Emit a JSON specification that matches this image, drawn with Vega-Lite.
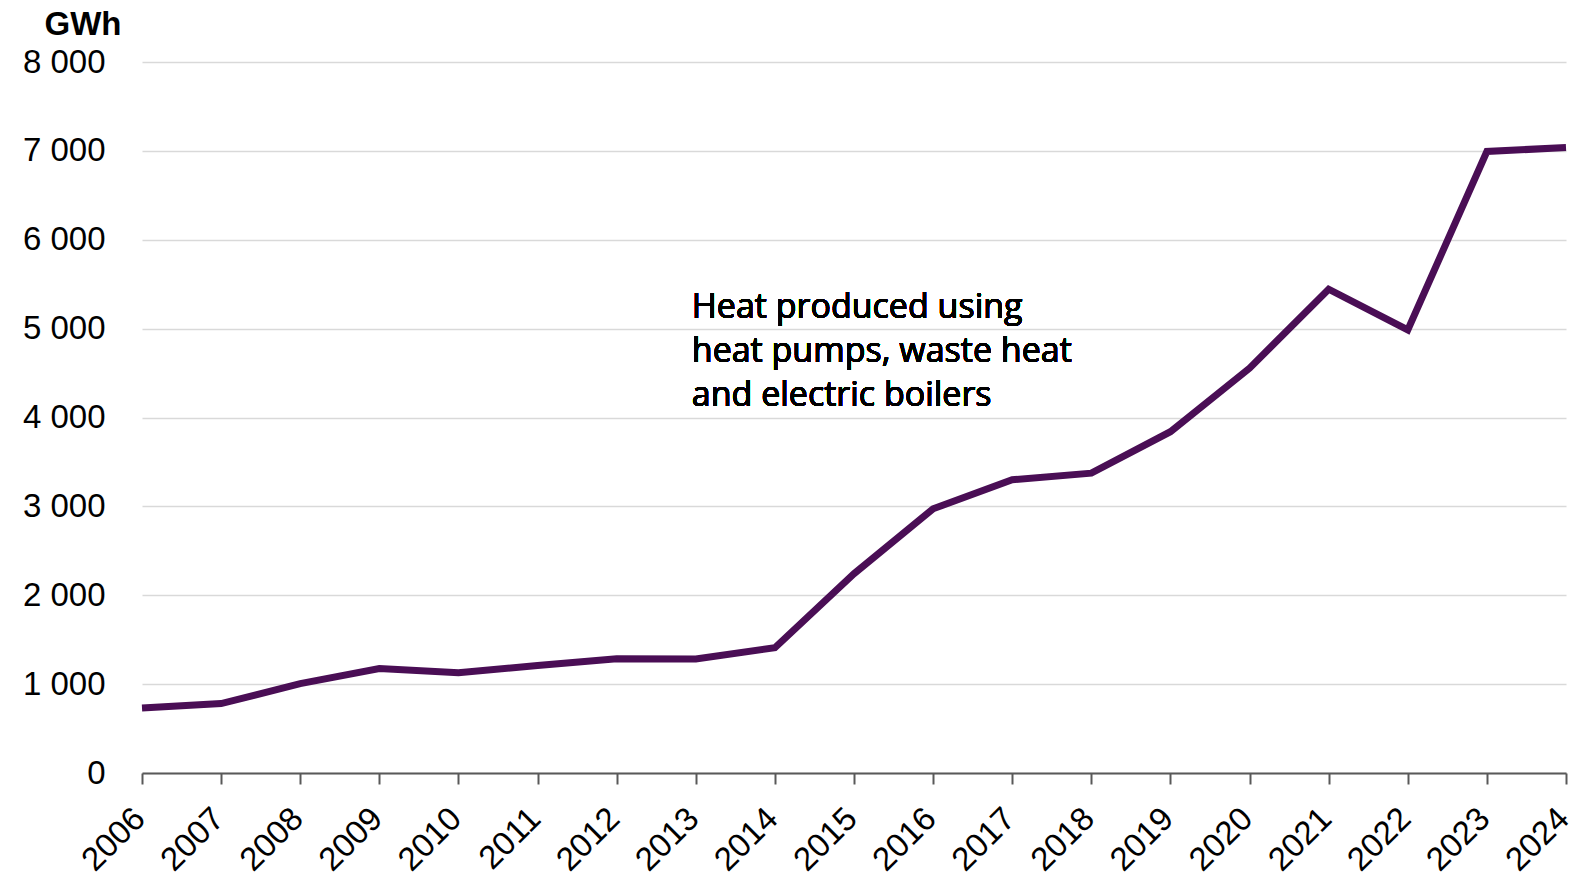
{
  "$schema": "https://vega.github.io/schema/vega-lite/v6.json",
  "width": 1424,
  "height": 711,
  "autosize": {"type": "none"},
  "padding": {"left": 142, "top": 62, "right": 9, "bottom": 104},
  "background": "white",
  "config": {
    "view": {"stroke": null},
    "font": "Liberation Sans",
    "locale": {"number": {"decimal": ".", "thousands": " ", "grouping": [3], "currency": ["", ""]}}
  },
  "data": {
    "values": [
      {"year": "2006", "gwh": 732},
      {"year": "2007", "gwh": 781},
      {"year": "2008", "gwh": 1006},
      {"year": "2009", "gwh": 1175},
      {"year": "2010", "gwh": 1129},
      {"year": "2011", "gwh": 1210},
      {"year": "2012", "gwh": 1286},
      {"year": "2013", "gwh": 1283},
      {"year": "2014", "gwh": 1410},
      {"year": "2015", "gwh": 2242},
      {"year": "2016", "gwh": 2973},
      {"year": "2017", "gwh": 3299},
      {"year": "2018", "gwh": 3374},
      {"year": "2019", "gwh": 3840},
      {"year": "2020", "gwh": 4554},
      {"year": "2021", "gwh": 5444},
      {"year": "2022", "gwh": 4985},
      {"year": "2023", "gwh": 6993},
      {"year": "2024", "gwh": 7038}
    ]
  },
  "layer": [
    {
      "mark": {"type": "line", "color": "#4a0e55", "strokeWidth": 7, "strokeJoin": "miter", "strokeCap": "butt"},
      "encoding": {
        "x": {
          "field": "year",
          "type": "ordinal",
          "scale": {"type": "point", "padding": 0},
          "axis": {
            "title": null,
            "labelAngle": -45,
            "labelFontSize": 33,
            "labelColor": "#000000",
            "labelPadding": 18,
            "labelOffset": -14,
            "labelBound": false,
            "domainColor": "#595959",
            "domainWidth": 2,
            "tickColor": "#595959",
            "tickWidth": 2,
            "tickSize": 11,
            "grid": false
          }
        },
        "y": {
          "field": "gwh",
          "type": "quantitative",
          "scale": {"domain": [0, 8000], "nice": false},
          "axis": {
            "values": [0, 1000, 2000, 3000, 4000, 5000, 6000, 7000, 8000],
            "format": ",d",
            "title": "GWh",
            "titleAngle": 0,
            "titleFontSize": 33,
            "titleFontWeight": "bold",
            "titleColor": "#000000",
            "titleAlign": "left",
            "titleBaseline": "alphabetic",
            "titleX": -98,
            "titleY": -28,
            "labelFontSize": 33,
            "labelColor": "#000000",
            "labelPadding": 37,
            "ticks": false,
            "domain": false,
            "grid": true,
            "gridColor": "#d9d9d9",
            "gridWidth": 1.5
          }
        }
      }
    },
    {
      "mark": {
        "type": "text",
        "align": "left",
        "baseline": "alphabetic",
        "font": "Open Sans",
        "fontSize": 34,
        "lineHeight": 44,
        "color": "#000000",
        "dx": -4,
        "text": ["Heat produced using", "heat pumps, waste heat", "and electric boilers"]
      },
      "encoding": {
        "x": {"datum": "2013", "type": "ordinal"},
        "y": {"datum": 5120, "type": "quantitative"}
      }
    }
  ]
}
